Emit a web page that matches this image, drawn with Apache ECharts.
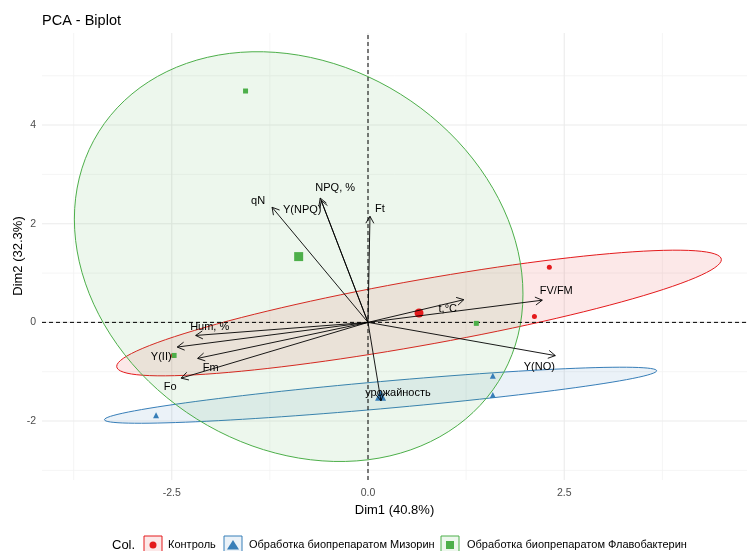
<!DOCTYPE html>
<html>
<head>
<meta charset="utf-8">
<script src="https://cdn.jsdelivr.net/npm/echarts@6/dist/echarts.min.js"></script>
<style>
  html, body { margin: 0; padding: 0; background: #ffffff; }
  #chart { width: 747px; height: 551px; }
</style>
</head>
<body>
<div id="chart"></div>
<script>
// ---- Data -------------------------------------------------------------
const groupNames = ['Контроль', 'Обработка биопрепаратом Мизорин', 'Обработка биопрепаратом Флавобактерин'];

// Individuals (PCA scores) per treatment group
const controlDim1 = [2.31, 2.12, -2.48];
const controlDim2 = [1.12, 0.12, -0.67];
const mizorinDim1 = [-2.70, 1.59, 1.59];
const mizorinDim2 = [-1.88, -1.08, -1.47];
const flavoDim1 = [-1.56, 1.38, -2.47];
const flavoDim2 = [4.69, -0.02, -0.67];

// Variables (loadings, scaled for the biplot)
const varNames = ['урожайность', 't,°C', 'Hum, %', 'Fo', 'Ft', 'Fm', 'FV/FM', 'Y(II)', 'Y(NPQ)', 'NPQ, %', 'qN', 'Y(NO)'];
const varDim1 = [0.165, 1.22, -2.195, -2.38, 0.025, -2.17, 2.22, -2.43, -0.596, -0.609, -1.222, 2.386];
const varDim2 = [-1.59, 0.46, -0.265, -1.13, 2.15, -0.73, 0.45, -0.50, 2.47, 2.52, 2.333, -0.673];

// Axis ticks
const xMajorTicks = [-2.5, 0, 2.5];
const xMinorTicks = [-3.75, -1.25, 1.25, 3.75];
const yMajorTicks = [-2, 0, 2, 4];
const yMinorTicks = [-3, -1, 1, 3, 5];

// ---- Presentation settings ---------------------------------------------
const xRange = [-4.153, 4.828];
const yRange = [-3.195, 5.866];
const ellipseRadius = 1.42;      // Mahalanobis radius of the group ellipses
const groupColors = ['#E41A1C', '#377EB8', '#4DAF4A'];
const groupFills = ['rgba(228,26,28,0.1)', 'rgba(55,126,184,0.1)', 'rgba(77,175,74,0.1)'];
const groupSymbols = ['circle', 'triangle', 'rect'];
const pointSizes = [5, 6, 5];
const meanSizes = [9, 11, 9];
// pixel nudges of variable labels relative to the arrow tips
const labelNudge = {
  'урожайность': [17, -8], 't,°C': [-16, 9], 'Hum, %': [14, -8], 'Fo': [-11, 9],
  'Ft': [10, -7], 'Fm': [13, 10], 'FV/FM': [14, -9], 'Y(II)': [-16, 10],
  'Y(NPQ)': [-19, 9], 'NPQ, %': [15, -10], 'qN': [-14, -6], 'Y(NO)': [-16, 11]
};
const FONT = '"Liberation Sans", Arial, Helvetica, sans-serif';

const groupsDim1 = [controlDim1, mizorinDim1, flavoDim1];
const groupsDim2 = [controlDim2, mizorinDim2, flavoDim2];

function mean(a) { return a.reduce((s, v) => s + v, 0) / a.length; }

// Normal-theory ellipse from the group covariance (Cholesky form)
function ellipseOf(xs, ys, r, n) {
  const mx = mean(xs), my = mean(ys), k = xs.length - 1;
  let sxx = 0, syy = 0, sxy = 0;
  for (let i = 0; i < xs.length; i++) {
    const dx = xs[i] - mx, dy = ys[i] - my;
    sxx += dx * dx; syy += dy * dy; sxy += dx * dy;
  }
  sxx /= k; syy /= k; sxy /= k;
  const a = Math.sqrt(sxx), b = sxy / a, c = Math.sqrt(Math.max(syy - b * b, 0));
  const pts = [];
  for (let i = 0; i < n; i++) {
    const t = 2 * Math.PI * i / n;
    const u = Math.cos(t), v = Math.sin(t);
    pts.push([mx + r * a * u, my + r * (b * u + c * v)]);
  }
  return pts;
}

const ellipses = groupsDim1.map((xs, g) => ellipseOf(xs, groupsDim2[g], ellipseRadius, 120));
const groupMeans = groupsDim1.map((xs, g) => [mean(xs), mean(groupsDim2[g])]);

// grid line items: [value, vertical?, major?]
const gridItems = [];
xMinorTicks.forEach(v => gridItems.push([v, 1, 0]));
yMinorTicks.forEach(v => gridItems.push([v, 0, 0]));
xMajorTicks.forEach(v => gridItems.push([v, 1, 1]));
yMajorTicks.forEach(v => gridItems.push([v, 0, 1]));

const chart = echarts.init(document.getElementById('chart'), null, { renderer: 'canvas' });

const series = [];

// background grid
series.push({
  type: 'custom', silent: true, z: 0,
  data: gridItems.map((d, i) => [i]),
  renderItem: function (params, api) {
    const [v, vertical, major] = gridItems[params.dataIndex];
    const p0 = vertical ? api.coord([v, yRange[0]]) : api.coord([xRange[0], v]);
    const p1 = vertical ? api.coord([v, yRange[1]]) : api.coord([xRange[1], v]);
    return {
      type: 'line',
      shape: { x1: p0[0], y1: p0[1], x2: p1[0], y2: p1[1] },
      style: { stroke: major ? '#ebebeb' : '#f3f3f3', lineWidth: major ? 1.1 : 0.8 }
    };
  }
});

// group ellipses
series.push({
  type: 'custom', silent: true, z: 1,
  data: groupNames.map((n, g) => [groupMeans[g][0], groupMeans[g][1]]),
  renderItem: function (params, api) {
    const g = params.dataIndex;
    const pts = ellipses[g].map(p => api.coord(p));
    return {
      type: 'polygon',
      shape: { points: pts },
      style: { fill: groupFills[g], stroke: groupColors[g], lineWidth: 1 }
    };
  }
});

// dashed reference lines at zero
series.push({
  type: 'custom', silent: true, z: 2,
  data: [[0, 1], [0, 0]],
  renderItem: function (params, api) {
    const vertical = params.dataIndex === 0;
    const p0 = vertical ? api.coord([0, yRange[0]]) : api.coord([xRange[0], 0]);
    const p1 = vertical ? api.coord([0, yRange[1]]) : api.coord([xRange[1], 0]);
    return {
      type: 'line',
      shape: { x1: p0[0], y1: p0[1], x2: p1[0], y2: p1[1] },
      style: { stroke: '#000000', lineWidth: 1, lineDash: [4, 3] }
    };
  }
});

// individual points and group means
groupNames.forEach((name, g) => {
  series.push({
    type: 'scatter', name: name, z: 3, silent: true,
    symbol: groupSymbols[g], symbolSize: pointSizes[g],
    itemStyle: { color: groupColors[g], opacity: 1 },
    data: groupsDim1[g].map((x, i) => [x, groupsDim2[g][i]])
  });
});
groupNames.forEach((name, g) => {
  series.push({
    type: 'scatter', name: name, z: 3, silent: true,
    symbol: groupSymbols[g], symbolSize: meanSizes[g],
    itemStyle: { color: groupColors[g], opacity: 1 },
    data: [groupMeans[g]]
  });
});

// variable arrows with labels
series.push({
  type: 'custom', silent: true, z: 4,
  data: varNames.map((n, i) => [varDim1[i], varDim2[i]]),
  renderItem: function (params, api) {
    const i = params.dataIndex;
    const o = api.coord([0, 0]);
    const t = api.coord([varDim1[i], varDim2[i]]);
    const th = Math.atan2(t[1] - o[1], t[0] - o[0]);
    const L = 8, A = Math.PI / 6;
    const h1 = [t[0] - L * Math.cos(th - A), t[1] - L * Math.sin(th - A)];
    const h2 = [t[0] - L * Math.cos(th + A), t[1] - L * Math.sin(th + A)];
    const nudge = labelNudge[varNames[i]] || [0, -10];
    return {
      type: 'group',
      children: [
        { type: 'line', shape: { x1: o[0], y1: o[1], x2: t[0], y2: t[1] },
          style: { stroke: '#000000', lineWidth: 0.9 } },
        { type: 'polyline', shape: { points: [h1, t, h2] },
          style: { stroke: '#000000', lineWidth: 0.9, fill: null } },
        { type: 'text', x: t[0] + nudge[0], y: t[1] + nudge[1],
          style: { text: varNames[i], fill: '#000000', fontSize: 11, fontFamily: FONT,
                   align: 'center', verticalAlign: 'middle' } }
      ]
    };
  }
});

// y-axis title and legend drawn as graphic elements
const legendY = 545;
const legendKeys = [144, 224, 441];
const legendTexts = [168, 249, 467];
const graphics = [{
  type: 'text', x: 18, y: 256, rotation: Math.PI / 2,
  style: { text: 'Dim2 (32.3%)', fill: '#000000', fontSize: 13, fontFamily: FONT,
           align: 'center', verticalAlign: 'middle' }
}, {
  type: 'text', x: 112, y: legendY,
  style: { text: 'Col.', fill: '#000000', fontSize: 13, fontFamily: FONT, verticalAlign: 'middle' }
}];
groupNames.forEach((name, g) => {
  const x = legendKeys[g], cx = x + 9, cy = legendY;
  let sym;
  if (g === 0) sym = { type: 'circle', shape: { cx: cx, cy: cy, r: 3.5 }, style: { fill: groupColors[g] } };
  else if (g === 1) sym = { type: 'polygon', shape: { points: [[cx, cy - 5], [cx - 6, cy + 4.5], [cx + 6, cy + 4.5]] }, style: { fill: groupColors[g] } };
  else sym = { type: 'rect', shape: { x: cx - 4, y: cy - 4, width: 8, height: 8 }, style: { fill: groupColors[g] } };
  graphics.push({
    type: 'rect', shape: { x: x, y: cy - 9, width: 18, height: 18 },
    style: { fill: groupFills[g], stroke: groupColors[g], lineWidth: 1 }
  });
  graphics.push(sym);
  graphics.push({
    type: 'text', x: legendTexts[g], y: cy,
    style: { text: name, fill: '#000000', fontSize: 11, fontFamily: FONT, verticalAlign: 'middle' }
  });
});

chart.setOption({
  animation: false,
  backgroundColor: '#ffffff',
  title: {
    text: 'PCA - Biplot', left: 42, top: 13, padding: 0,
    textStyle: { fontSize: 14.5, fontWeight: 'normal', color: '#000000', fontFamily: FONT }
  },
  grid: { left: 42, right: 0, top: 33, bottom: 71, containLabel: false, outerBoundsMode: 'none' },
  xAxis: {
    type: 'value', min: xRange[0], max: xRange[1],
    name: 'Dim1 (40.8%)', nameLocation: 'middle', nameGap: 22,
    nameTextStyle: { fontSize: 13, color: '#000000', fontFamily: FONT },
    axisLine: { show: false }, axisTick: { show: false }, splitLine: { show: false },
    axisLabel: {
      customValues: xMajorTicks, margin: 8,
      formatter: v => v.toFixed(1),
      color: '#4d4d4d', fontSize: 10.5, fontFamily: FONT
    }
  },
  yAxis: {
    type: 'value', min: yRange[0], max: yRange[1],
    axisLine: { show: false }, axisTick: { show: false }, splitLine: { show: false },
    axisLabel: {
      customValues: yMajorTicks, margin: 6,
      formatter: v => String(v),
      color: '#4d4d4d', fontSize: 10.5, fontFamily: FONT
    }
  },
  series: series,
  graphic: graphics
});
</script>
</body>
</html>
